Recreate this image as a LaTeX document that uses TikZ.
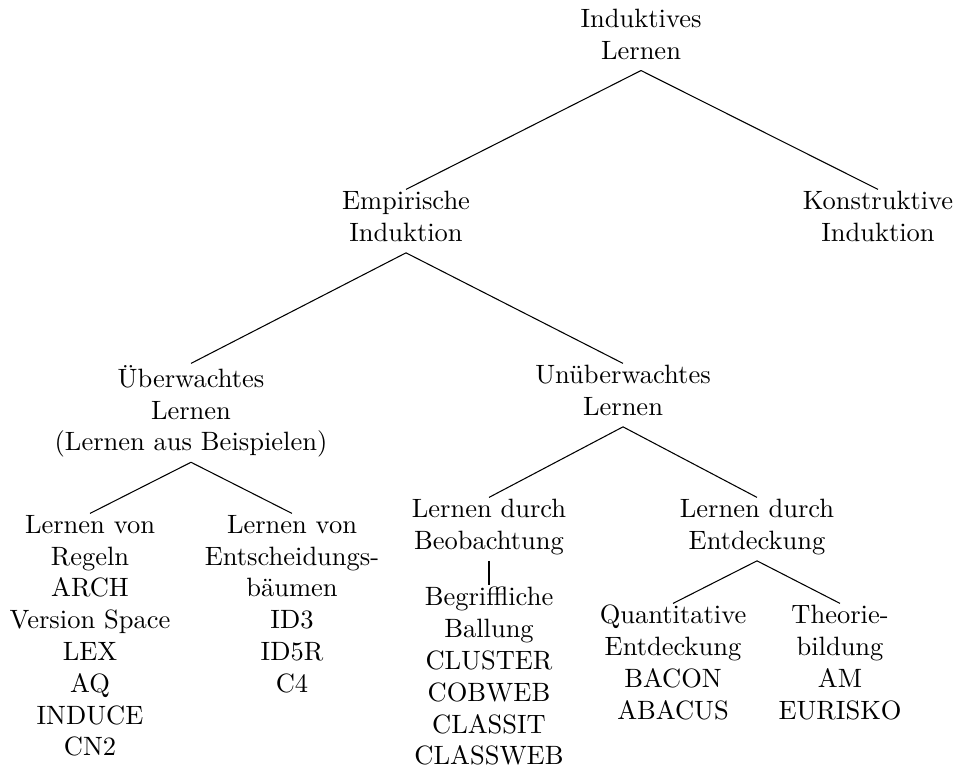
\documentclass[tikz,border=0pt]{standalone}
\begin{document}
\begin{tikzpicture}[
    x=0.3774pt, y=-0.3774pt,
    term/.style={align=center, anchor=north, inner xsep=2pt, inner ysep=0.5pt, execute at begin node=\strut, execute at end node=\strut},
    branch/.style={thin}
]
\useasboundingbox (0,0) rectangle (953,772);

% Nodes
\node[term] (induktiv) at (641,7.1) {Induktives\\Lernen};
\node[term] (empirisch) at (406,189.4) {Empirische\\Induktion};
\node[term] (konstruktiv) at (878,189.4) {Konstruktive\\Induktion};
\node[term] (ueberwacht) at (191,363.4) {Überwachtes\\Lernen\\(Lernen aus Beispielen)};
\node[term] (unueberwacht) at (623,363.4) {Unüberwachtes\\Lernen};
\node[term] (regeln) at (90,513.4) {Lernen von\\Regeln\\ARCH\\Version Space\\LEX\\AQ\\INDUCE\\CN2};
\node[term] (baeume) at (292,513.4) {Lernen von\\Entscheidungs-\\bäumen\\ID3\\ID5R\\C4};
\node[term] (beobachtung) at (489,497.4) {Lernen durch\\Beobachtung};
\node[term] (entdeckung) at (757,497.4) {Lernen durch\\Entdeckung};
\node[term] (ballung) at (489,585.4) {Begriffliche\\Ballung\\CLUSTER\\COBWEB\\CLASSIT\\CLASSWEB};
\node[term] (quantitativ) at (673,603.4) {Quantitative\\Entdeckung\\BACON\\ABACUS};
\node[term] (theorie) at (840,603.4) {Theorie-\\bildung\\AM\\EURISKO};

% Connections
\draw[branch] (induktiv.south) -- (empirisch.north);
\draw[branch] (induktiv.south) -- (konstruktiv.north);
\draw[branch] (empirisch.south) -- (ueberwacht.north);
\draw[branch] (empirisch.south) -- (unueberwacht.north);
\draw[branch] (ueberwacht.south) -- (regeln.north);
\draw[branch] (ueberwacht.south) -- (baeume.north);
\draw[branch] (unueberwacht.south) -- (beobachtung.north);
\draw[branch] (unueberwacht.south) -- (entdeckung.north);
\draw[branch] (beobachtung.south) -- (ballung.north);
\draw[branch] (entdeckung.south) -- (quantitativ.north);
\draw[branch] (entdeckung.south) -- (theorie.north);

\end{tikzpicture}
\end{document}
